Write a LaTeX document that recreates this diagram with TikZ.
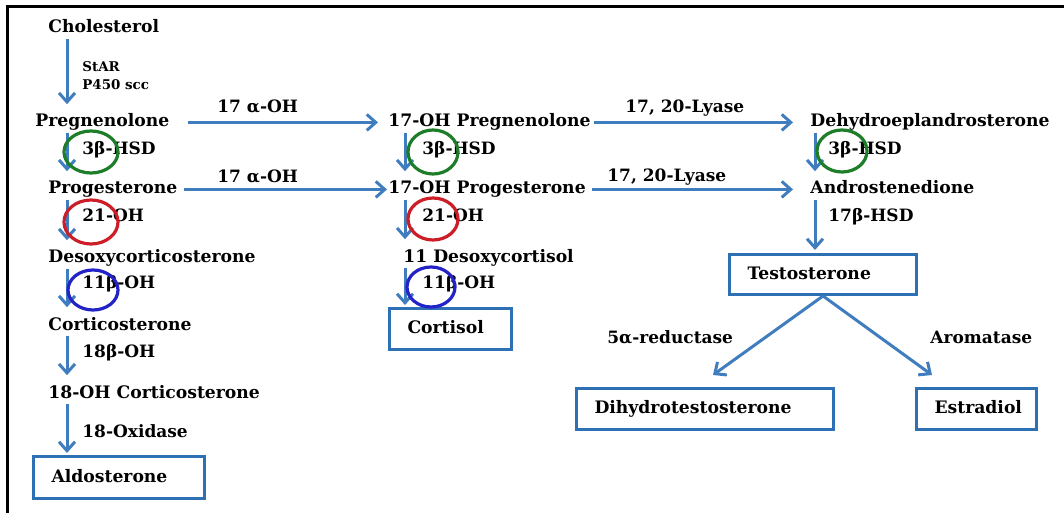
\documentclass[tikz,border=0pt]{standalone}
\usepackage{fontspec}
\setmainfont{DejaVu Serif}
\usepackage{tikz}
\usetikzlibrary{arrows.meta}

\definecolor{flowblue}{RGB}{64,125,190}
\definecolor{boxblue}{RGB}{46,112,180}
\definecolor{ringgreen}{RGB}{30,125,40}
\definecolor{ringred}{RGB}{205,30,40}
\definecolor{ringblue}{RGB}{35,35,200}

\tikzset{
  steroid/.style={anchor=base west, inner sep=0pt, text height=6.2pt, text depth=1.6pt,
    font=\bfseries\fontsize{8.6}{10}\selectfont},
  enzyme/.style={anchor=base west, inner sep=0pt, font=\bfseries\fontsize{8.5}{10}\selectfont},
  smallenz/.style={anchor=base west, inner sep=0pt, font=\bfseries\fontsize{6.7}{8}\selectfont},
  endbox/.style={draw=boxblue, line width=1.5pt, anchor=north west, inner xsep=9pt, inner ysep=0pt,
    text height=6.2pt, text depth=1.6pt, font=\bfseries\fontsize{8.6}{10}\selectfont},
  conv/.style={draw=flowblue, line width=1.5pt, -{Straight Barb[length=4.5pt,width=8pt]},
    shorten <=1pt, shorten >=5pt},
  ring/.style={line width=1.6pt}
}

\begin{document}
\begin{tikzpicture}[x=0.5pt,y=-0.5pt]
  \useasboundingbox (0,0) rectangle (1064,513);
  \draw[line width=1.5pt] (7,513) -- (7,7) -- (1064,7);

  % columns of the vertical arrows
  \coordinate (colA) at (67,0);
  \coordinate (colB) at (405,0);
  \coordinate (colC) at (815,0);

  % mineralocorticoid column
  \node[steroid] (chol) at (48,33) {Cholesterol};
  \node[smallenz] (star) at (82,72) {StAR};
  \node[smallenz] (p450) at (82,90) {P450 scc};
  \node[steroid] (preg) at (35,127) {Pregnenolone};
  \node[steroid] (prog) at (48,194) {Progesterone};
  \node[steroid] (doc) at (48,263) {Desoxycorticosterone};
  \node[steroid] (cortico) at (48,330) {Corticosterone};
  \node[steroid] (ohcortico) at (48,398) {18-OH Corticosterone};
  \node[endbox, text width=67.5pt, minimum height=21pt] (aldo) at (32,455) {Aldosterone};

  \node[enzyme] (hsdA) at (82,155) {3β-HSD};
  \node[enzyme] (ohA) at (82,221) {21-OH};
  \node[enzyme] (betaA) at (82,288) {11β-OH};
  \node[enzyme] (ohB) at (82,357) {18β-OH};
  \node[enzyme] (oxid) at (82,437) {18-Oxidase};

  % glucocorticoid column
  \node[steroid] (preg17) at (388,127) {17-OH Pregnenolone};
  \node[steroid] (prog17) at (388,194) {17-OH Progesterone};
  \node[steroid] (deoxycort) at (403,262) {11 Desoxycortisol};
  \node[endbox, text width=43pt, minimum height=20.5pt] (cortisol) at (388,307) {Cortisol};

  \node[enzyme] (hsdB) at (422,155) {3β-HSD};
  \node[enzyme] (ohC) at (422,221) {21-OH};
  \node[enzyme] (betaB) at (422,288) {11β-OH};

  % androgen column
  \node[steroid] (dhea) at (810,127) {Dehydroeplandrosterone};
  \node[steroid] (andro) at (810,194) {Androstenedione};
  \node[endbox, text width=75.5pt, minimum height=20pt] (testo) at (728,253) {Testosterone};
  \node[endbox, text width=110.5pt, minimum height=20.5pt] (dht) at (575,387) {Dihydrotestosterone};
  \node[endbox, text width=42pt, minimum height=20.5pt] (estr) at (915,387) {Estradiol};

  \node[enzyme] (hsdC) at (828,155) {3β-HSD};
  \node[enzyme] (hsdD) at (828,221) {17β-HSD};
  \node[enzyme] (red5) at (607,343) {5α-reductase};
  \node[enzyme] (arom) at (930,343) {Aromatase};

  % labels on the horizontal arrows
  \node[enzyme] (hydA) at (217,113) {17 α-OH};
  \node[enzyme] (hydB) at (217,183) {17 α-OH};
  \node[enzyme] (lyaseA) at (625,113) {17, 20-Lyase};
  \node[enzyme] (lyaseB) at (607,182) {17, 20-Lyase};

  % vertical arrows
  \draw[conv] (chol.south -| colA) -- (preg.north -| colA);
  \draw[conv] (preg.south -| colA) -- (prog.north -| colA);
  \draw[conv] (prog.south -| colA) -- (doc.north -| colA);
  \draw[conv] (doc.south -| colA) -- (cortico.north -| colA);
  \draw[conv] (cortico.south -| colA) -- (ohcortico.north -| colA);
  \draw[conv, shorten >=1pt] (ohcortico.south -| colA) -- (aldo.north -| colA);
  \draw[conv] (preg17.south -| colB) -- (prog17.north -| colB);
  \draw[conv] (prog17.south -| colB) -- (deoxycort.north -| colB);
  \draw[conv, shorten >=1pt] (deoxycort.south -| colB) -- (cortisol.north -| colB);
  \draw[conv] (dhea.south -| colC) -- (andro.north -| colC);
  \draw[conv, shorten >=1.5pt] (andro.south -| colC) -- (testo.north -| colC);

  % horizontal arrows
  \draw[conv, shorten <=9pt] (preg.east) -- (preg17.west);
  \draw[conv, shorten <=3pt, shorten >=0.5pt] (prog.east) -- (prog17.west);
  \draw[conv, shorten <=1.5pt, shorten >=8.5pt] (preg17.east) -- (dhea.west);
  \draw[conv, shorten <=3pt, shorten >=8.5pt] (prog17.east) -- (andro.west);

  % testosterone branches
  \coordinate (dhttip) at (713,375);
  \coordinate (esttip) at (932,375);
  \draw[conv, shorten <=0pt, shorten >=0pt] (testo.south) -- (dhttip);
  \draw[conv, shorten <=0pt, shorten >=0pt] (testo.south) -- (esttip);

  % enzyme rings
  \draw[ring, ringgreen] (91,152) ellipse [x radius=13.5pt, y radius=10.5pt];
  \draw[ring, ringred] (91,222) ellipse [x radius=13.5pt, y radius=11pt];
  \draw[ring, ringblue] (93,290) ellipse [x radius=12.5pt, y radius=10pt];
  \draw[ring, ringgreen] (433,152) ellipse [x radius=12.5pt, y radius=11pt];
  \draw[ring, ringred] (433,219) ellipse [x radius=12.5pt, y radius=10.5pt];
  \draw[ring, ringblue] (431,287) ellipse [x radius=12pt, y radius=10pt];
  \draw[ring, ringgreen] (842,151) ellipse [x radius=12.5pt, y radius=10.5pt];
\end{tikzpicture}
\end{document}
